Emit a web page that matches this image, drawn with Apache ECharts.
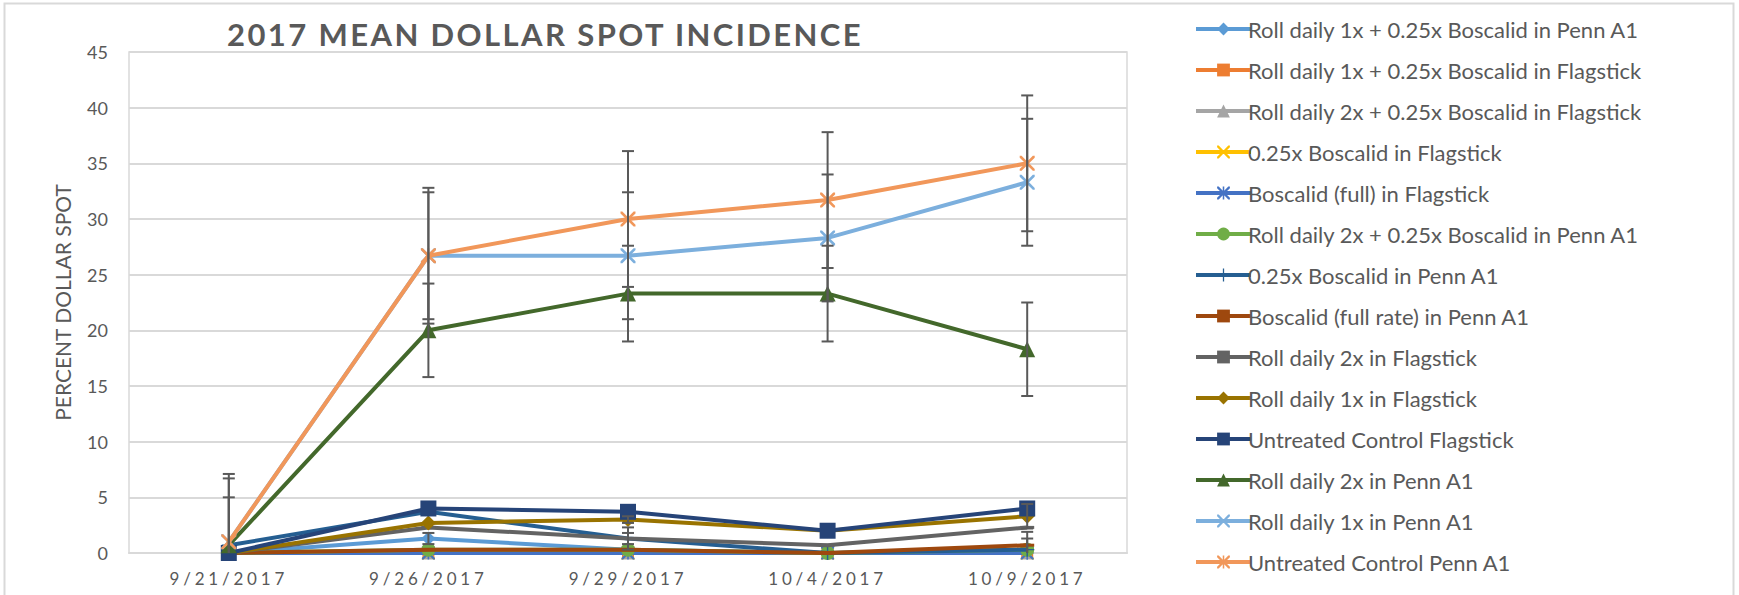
<!DOCTYPE html>
<html>
<head>
<meta charset="utf-8">
<script src="https://cdn.jsdelivr.net/npm/echarts@6/dist/echarts.min.js"></script>
<style>
html,body{margin:0;padding:0;background:#fff;}
#container{width:1739px;height:595px;}
</style>
</head>
<body>
<div id="container"></div>
<script>
// dates on the x axis
var dates = ['9/21/2017', '9/26/2017', '9/29/2017', '10/4/2017', '10/9/2017'];
var yTicks = [0, 5, 10, 15, 20, 25, 30, 35, 40, 45];
var titleText = '2017 MEAN DOLLAR SPOT INCIDENCE';

var names = [
	'Roll daily 1x + 0.25x Boscalid in Penn A1',
	'Roll daily 1x + 0.25x Boscalid in Flagstick',
	'Roll daily 2x + 0.25x Boscalid in Flagstick',
	'0.25x Boscalid in Flagstick',
	'Boscalid (full) in Flagstick',
	'Roll daily 2x + 0.25x Boscalid in Penn A1',
	'0.25x Boscalid in Penn A1',
	'Boscalid (full rate) in Penn A1',
	'Roll daily 2x in Flagstick',
	'Roll daily 1x in Flagstick',
	'Untreated Control Flagstick',
	'Roll daily 2x in Penn A1',
	'Roll daily 1x in Penn A1',
	'Untreated Control Penn A1'
];

// mean percent dollar spot
var roll1xLowPenn  = [0, 1.3, 0.3, 0, 0];
var roll1xLowFlag  = [0, 0, 0, 0, 0];
var roll2xLowFlag  = [0, 0, 0, 0, 0];
var lowBoscFlag    = [0, 0, 0, 0, 0];
var fullBoscFlag   = [0, 0, 0, 0, 0];
var roll2xLowPenn  = [0, 0.3, 0.3, 0, 0.3];
var lowBoscPenn    = [0.7, 3.7, 1.3, 0, 0.3];
var fullBoscPenn   = [0, 0.3, 0.3, 0, 0.7];
var roll2xFlag     = [0, 2.3, 1.3, 0.7, 2.3];
var roll1xFlag     = [0, 2.7, 3.0, 2.0, 3.3];
var untreatedFlag  = [0, 4.0, 3.7, 2.0, 4.0];
var roll2xPenn     = [0.7, 20.0, 23.3, 23.3, 18.3];
var roll1xPenn     = [1.0, 26.7, 26.7, 28.3, 33.3];
var untreatedPenn  = [1.0, 26.7, 30.0, 31.7, 35.0];

// standard error (error bars)
var errRoll1xLowPenn = [0, 0.5, 0, 0, 0];
var errRoll2xLowPenn = [0, 0, 0, 0, 1.0];
var errLowBoscPenn   = [0, 0, 1.0, 0, 0];
var errFullBoscPenn  = [0, 0, 0, 0, 1.2];
var errRoll2xFlag    = [0, 0, 0.5, 0, 0];
var errRoll1xFlag    = [0, 0, 0.3, 0, 1.1];
var errRoll2xPenn    = [4.3, 4.2, 4.3, 4.3, 4.2];
var errRoll1xPenn    = [5.7, 5.7, 5.7, 5.7, 5.7];
var errUntreatedPenn = [6.1, 6.1, 6.1, 6.1, 6.1];

var pathX = 'path://M0,0 L2.5,0 L10,7.5 L17.5,0 L20,0 L20,2.5 L12.5,10 L20,17.5 L20,20 L17.5,20 L10,12.5 L2.5,20 L0,20 L0,17.5 L7.5,10 L0,2.5 Z';
var pathStar = pathX + ' M8.8,0 L11.2,0 L11.2,20 L8.8,20 Z';
var pathPlus = 'path://M9,0 L11,0 L11,9 L20,9 L20,11 L11,11 L11,20 L9,20 L9,11 L0,11 L0,9 L9,9 Z';
var pathDash = 'path://M0,0 L20,0 L20,4 L0,4 Z';

var allValues = [roll1xLowPenn, roll1xLowFlag, roll2xLowFlag, lowBoscFlag, fullBoscFlag, roll2xLowPenn,
	lowBoscPenn, fullBoscPenn, roll2xFlag, roll1xFlag, untreatedFlag, roll2xPenn, roll1xPenn, untreatedPenn];
var allErrors = [errRoll1xLowPenn, null, null, null, null, errRoll2xLowPenn,
	errLowBoscPenn, errFullBoscPenn, errRoll2xFlag, errRoll1xFlag, null, errRoll2xPenn, errRoll1xPenn, errUntreatedPenn];
var colors = ['#5B9BD5', '#ED7D31', '#A5A5A5', '#FFC000', '#4472C4', '#70AD47', '#255E91',
	'#9E480E', '#636363', '#997300', '#264478', '#43682B', '#7CAFDD', '#F1975A'];
var symbols = ['diamond', 'rect', 'triangle', pathX, pathStar, 'circle', pathPlus,
	pathDash, pathDash, 'diamond', 'rect', 'triangle', pathX, pathStar];
var sizes = [14, 12, 13, 13, 13, 14, 14, [14, 3], [14, 3], 15, 16, 16, 15, 15];

function renderErr(params, api) {
	var x = api.value(0);
	var lo = api.value(1);
	var hi = api.value(2);
	var clipped = lo < 0;
	if (clipped) lo = 0;
	var top = api.coord([x, hi]);
	var bot = api.coord([x, lo]);
	var hw = 6;
	var style = {stroke: '#595959', lineWidth: 2};
	var kids = [
		{type: 'line', shape: {x1: top[0], y1: top[1], x2: bot[0], y2: bot[1]}, style: style},
		{type: 'line', shape: {x1: top[0] - hw, y1: top[1], x2: top[0] + hw, y2: top[1]}, style: style}
	];
	if (!clipped) {
		kids.push({type: 'line', shape: {x1: bot[0] - hw, y1: bot[1], x2: bot[0] + hw, y2: bot[1]}, style: style});
	}
	return {type: 'group', children: kids};
}

var series = [];
var errData = [];
for (var i = 0; i < names.length; i++) {
	series.push({
		name: names[i],
		type: 'line',
		data: allValues[i],
		symbol: symbols[i],
		symbolSize: sizes[i],
		showAllSymbol: true,
		color: colors[i],
		lineStyle: {width: 4, color: colors[i]},
		itemStyle: {color: colors[i]},
		z: 2 + i * 0.01,
		animation: false
	});
	if (allErrors[i]) {
		for (var j = 0; j < dates.length; j++) {
			if (allErrors[i][j] > 0) {
				errData.push([j, allValues[i][j] - allErrors[i][j], allValues[i][j] + allErrors[i][j]]);
			}
		}
	}
}
series.push({
	type: 'custom',
	renderItem: renderErr,
	data: errData,
	encode: {x: 0, y: [1, 2]},
	z: 3,
	silent: true,
	animation: false
});

var myChart = echarts.init(document.getElementById('container'), null, {renderer: 'svg'});
var option = {
	backgroundColor: '#fff',
	animation: false,
	textStyle: {fontFamily: 'Lato'},
	title: {
		text: titleText,
		left: 540,
		top: 13,
		textAlign: 'center',
		textStyle: {fontFamily: 'Lato', fontWeight: 'bold', fontSize: 31, color: '#595959'}
	},
	legend: {
		orient: 'vertical',
		left: 1189,
		top: 13,
		itemWidth: 55,
		itemHeight: 16,
		itemGap: 19,
		data: names,
		lineStyle: {width: 4},
		textStyle: {fontFamily: 'Lato', fontSize: 22, color: '#595959', lineHeight: 22, padding: [0, 0, 0, -8]}
	},
	grid: {
		left: 129,
		right: 612,
		top: 52,
		bottom: 42,
		show: true,
		borderColor: '#d9d9d9',
		borderWidth: 1.5
	},
	xAxis: {
		type: 'category',
		data: dates,
		boundaryGap: true,
		axisLine: {show: true, lineStyle: {color: '#d9d9d9', width: 2}},
		axisTick: {show: false},
		axisLabel: {color: '#595959', fontSize: 17, margin: 17}
	},
	yAxis: {
		type: 'value',
		min: yTicks[0],
		max: yTicks[yTicks.length - 1],
		interval: yTicks[1] - yTicks[0],
		name: 'PERCENT DOLLAR SPOT',
		nameLocation: 'middle',
		nameRotate: 90,
		nameGap: 56,
		nameTextStyle: {color: '#595959', fontSize: 21},
		axisLine: {show: false},
		axisTick: {show: false},
		axisLabel: {color: '#595959', fontSize: 18, margin: 21},
		splitLine: {lineStyle: {color: '#d9d9d9', width: 2}}
	},
	graphic: [{
		type: 'rect',
		shape: {x: 4.5, y: 3.5, width: 1729, height: 640},
		style: {fill: null, stroke: '#d9d9d9', lineWidth: 2},
		silent: true
	}],
	series: series
};
myChart.setOption(option);

// Excel draws the title and date labels with letter spacing
var texts = document.querySelectorAll('#container text');
for (var k = 0; k < texts.length; k++) {
	var t = texts[k].textContent;
	if (t === titleText) texts[k].setAttribute('letter-spacing', '2.4');
	if (dates.indexOf(t) >= 0) texts[k].setAttribute('letter-spacing', '3.8');
}
</script>
</body>
</html>
